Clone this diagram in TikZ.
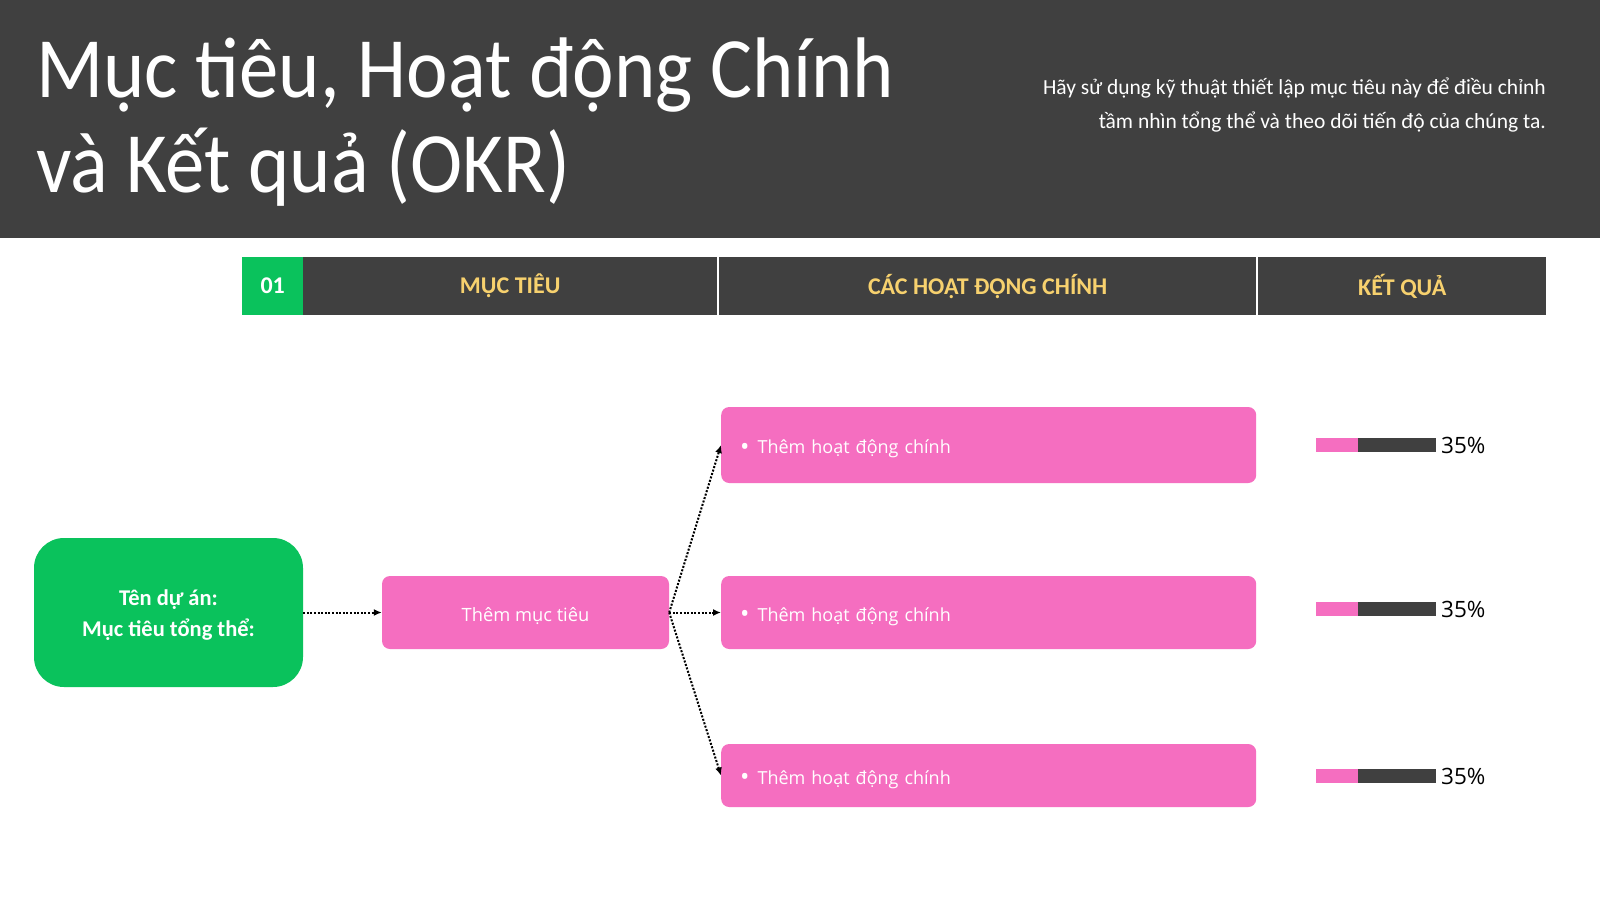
\documentclass[tikz,border=0pt]{standalone}
\usepackage{fontspec}
\setmainfont{Carlito}
\newfontfamily\condfont[FakeStretch=0.915]{Carlito}
\newfontfamily\osans{Open Sans}
\usetikzlibrary{arrows.meta}
\definecolor{darkband}{HTML}{404040}
\definecolor{okgreen}{HTML}{0AC25C}
\definecolor{okpink}{HTML}{F56EC0}
\definecolor{hdryellow}{HTML}{F7D16E}
\tikzset{
  hdrcell/.style={fill=darkband, draw=none, minimum height=58pt, inner sep=0pt, text=hdryellow, font=\fontsize{24}{28}\selectfont\bfseries},
  pinkbox/.style={fill=okpink, draw=none, rounded corners=8pt, inner sep=0pt, text=white},
  actbox/.style={pinkbox, minimum width=535pt, text width=535pt},
  conn/.style={line width=2pt, dash pattern=on 2pt off 1.6pt, -{Latex[length=8pt,width=7pt]}},
  pctlabel/.style={anchor=west, inner sep=0pt, font=\osans\fontsize{22.5}{26}\selectfont},
}
\newcommand{\lowered}[2]{\raisebox{-#1}[\height][\depth]{#2}}
\newcommand{\actline}{\hspace*{19pt}\lowered{4pt}{\lowered{1.5pt}{\fontsize{25}{22}\selectfont•}\hspace{8pt}Thêm hoạt động chính}}
\begin{document}
\begin{tikzpicture}[x=1pt,y=-1pt]
\useasboundingbox (0,0) rectangle (1600,900);
\fill[white] (0,0) rectangle (1600,900);
% header band
\fill[darkband] (0,0) rectangle (1600,238);
\node[anchor=base west, inner sep=0pt, text=white, font=\condfont\fontsize{86}{95}\selectfont] (title1) at (36,97) {Mục tiêu, Hoạt động Chính};
\node[anchor=base west, inner sep=0pt, text=white, font=\condfont\fontsize{86}{95}\selectfont] (title2) at (36,192) {và Kết quả (OKR)};
\node[anchor=base east, inner sep=0pt, text=white, font=\fontsize{21.5}{24}\selectfont] (sub1) at (1546,94) {Hãy sử dụng kỹ thuật thiết lập mục tiêu này để điều chỉnh};
\node[anchor=base east, inner sep=0pt, text=white, font=\fontsize{21.5}{24}\selectfont] (sub2) at (1546,128) {tầm nhìn tổng thể và theo dõi tiến độ của chúng ta.};
% table header
\node[hdrcell, fill=okgreen, text=white, minimum width=61pt, anchor=north west] (h0) at (242,257) {01};
\node[hdrcell, minimum width=414pt, anchor=north west] (h1) at (303,257) {MỤC TIÊU};
\node[hdrcell, minimum width=537pt, anchor=north west] (h2) at (719,257) {CÁC HOẠT ĐỘNG CHÍNH};
\node[hdrcell, minimum width=288pt, anchor=north west] (h3) at (1258,257) {KẾT QUẢ};
% green project box
\node[fill=okgreen, rounded corners=30pt, minimum width=269pt, minimum height=149pt, inner sep=0pt, text=white, font=\fontsize{22.5}{31}\selectfont\bfseries] (proj) at (168.5,612.5) {\lowered{3pt}{\parbox{250pt}{\centering Tên dự án:\\Mục tiêu tổng thể:}}};
% objective box
\node[pinkbox, minimum width=287pt, minimum height=73pt, font=\osans\fontsize{18.3}{22}\selectfont] (obj) at (525.5,612.5) {\lowered{4pt}{Thêm mục tiêu}};
% activity boxes
\node[actbox, minimum height=76pt, anchor=west, font=\osans\fontsize{18}{22}\selectfont] (a1) at (721,445) {\actline};
\node[actbox, minimum height=73pt, anchor=west, font=\osans\fontsize{18}{22}\selectfont] (a2) at (721,612.5) {\actline};
\node[actbox, minimum height=63pt, anchor=west, font=\osans\fontsize{18}{22}\selectfont] (a3) at (721,775.5) {\actline};
% connectors
\draw[conn] (proj.east) -- (obj.west);
\draw[conn] (obj.east) -- (a1.west);
\draw[conn] (obj.east) -- (a2.west);
\draw[conn] (obj.east) -- (a3.west);
% progress bars
\foreach \yy/\nm in {445/r1, 609/r2, 776/r3}{
  \fill[darkband] (1316,\yy-7) rectangle (1436,\yy+7);
  \fill[okpink] (1316,\yy-7) rectangle (1358,\yy+7);
  \node[pctlabel] (\nm) at (1441,\yy) {35\%};
}
\end{tikzpicture}
\end{document}
